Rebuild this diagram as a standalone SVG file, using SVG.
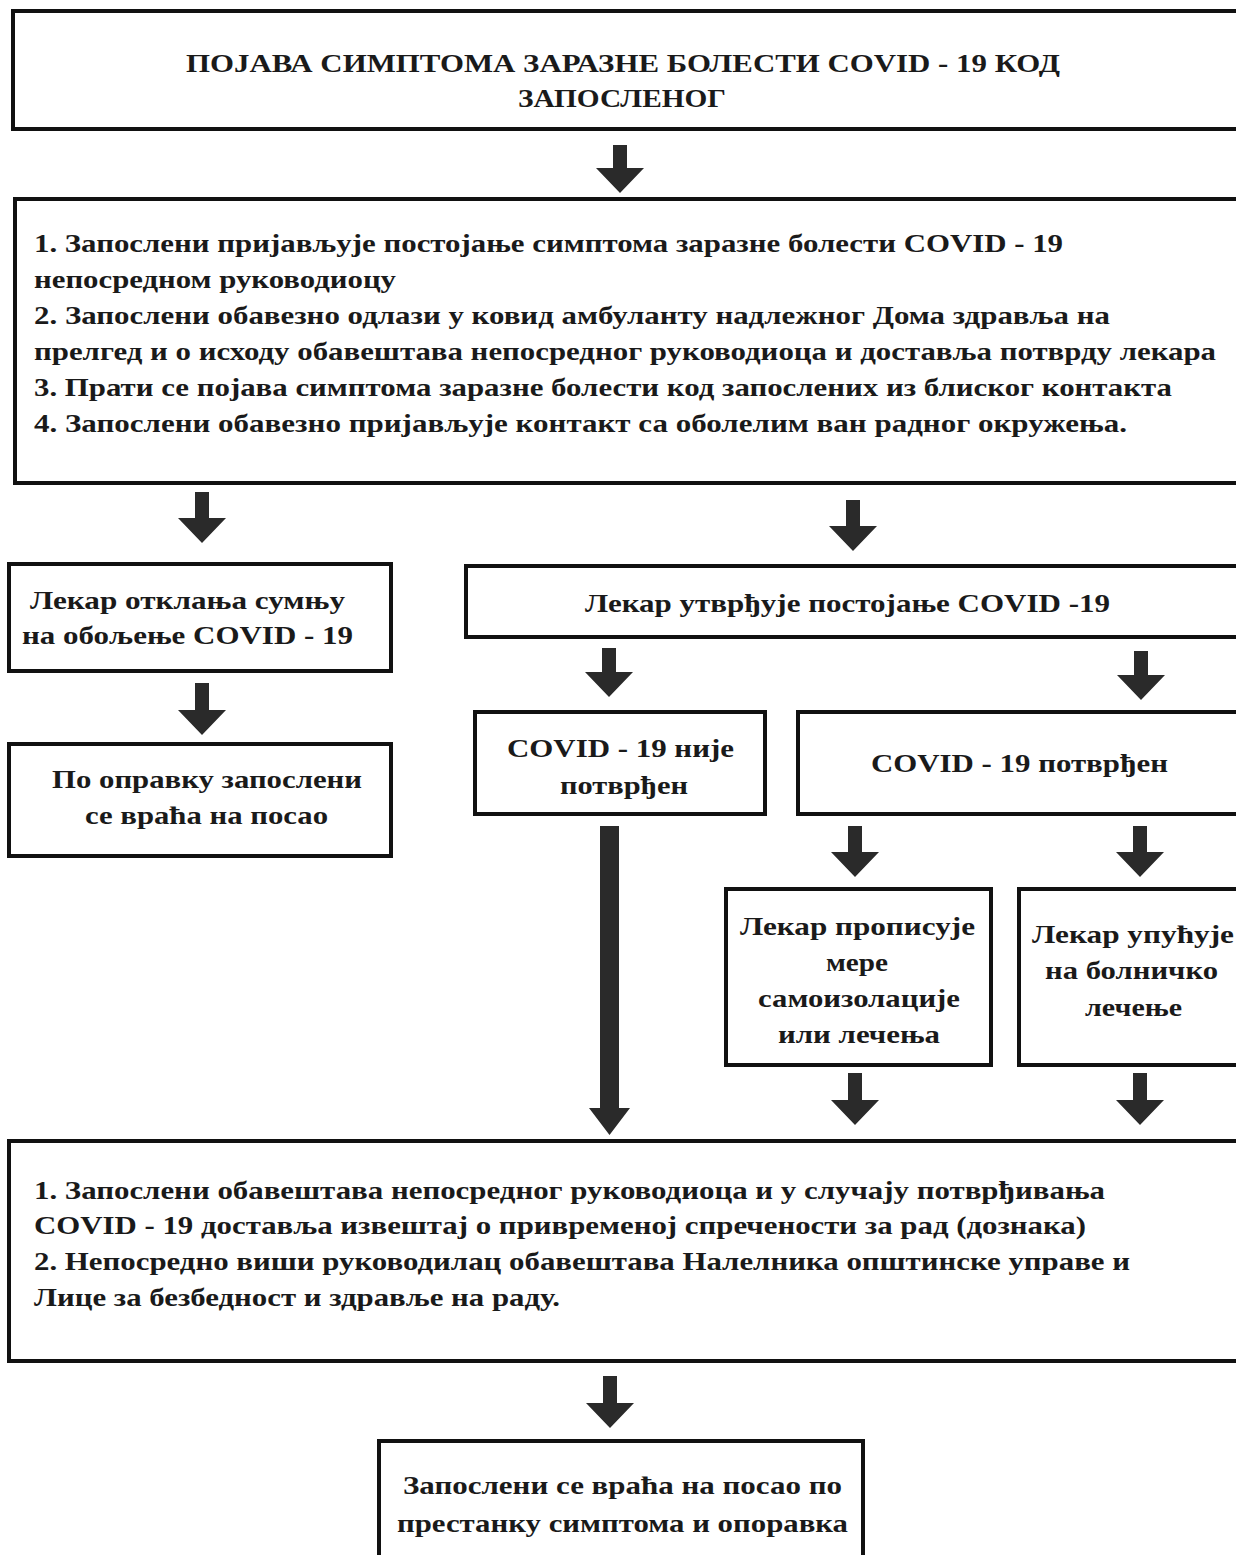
<svg xmlns="http://www.w3.org/2000/svg" width="1236" height="1555" viewBox="0 0 1236 1555">
<style>
.box{fill:#fff;stroke:#111;stroke-width:4}
.t{font-family:"Liberation Serif","Times New Roman",serif;font-weight:bold;font-size:26px;fill:#1a1a1a}
.ti{font-size:26px}
.arr{fill:#2a2a2a}
</style>
<rect width="1236" height="1555" fill="#fff"/>
<g id="connectors">
<path class="arr" d="M613 145h14v23h17l-24 25l-24-25h17z"/>
<path class="arr" d="M195 492h14v26h17l-24 25l-24-25h17z"/>
<path class="arr" d="M846 500h14v26h17l-24 25l-24-25h17z"/>
<path class="arr" d="M195 683h14v27h17l-24 25l-24-25h17z"/>
<path class="arr" d="M602 648h14v24h17l-24 25l-24-25h17z"/>
<path class="arr" d="M1134 651h14v24h17l-24 25l-24-25h17z"/>
<path class="arr" d="M600 826h19v282h11l-20.5 27l-20.5-27h11z"/>
<path class="arr" d="M848 826h14v26h17l-24 25l-24-25h17z"/>
<path class="arr" d="M1133 826h14v26h17l-24 25l-24-25h17z"/>
<path class="arr" d="M848 1073h14v27h17l-24 25l-24-25h17z"/>
<path class="arr" d="M1133 1073h14v27h17l-24 25l-24-25h17z"/>
<path class="arr" d="M603 1376h14v27h17l-24 25l-24-25h17z"/>
</g>
<g id="n1">
<rect class="box" x="13" y="11" width="1235" height="118"/>
<text class="t ti" x="186" y="72" textLength="874" lengthAdjust="spacingAndGlyphs">ПОЈАВА СИМПТОМА ЗАРАЗНЕ БОЛЕСТИ COVID - 19 КОД</text>
<text class="t ti" x="518" y="107" textLength="208" lengthAdjust="spacingAndGlyphs">ЗАПОСЛЕНОГ</text>
</g>
<g id="n2">
<rect class="box" x="15" y="199" width="1233" height="284"/>
<text class="t" x="34" y="252" textLength="1029" lengthAdjust="spacingAndGlyphs">1. Запослени пријављује постојање симптома заразне болести COVID - 19</text>
<text class="t" x="34" y="288" textLength="362" lengthAdjust="spacingAndGlyphs">непосредном руководиоцу</text>
<text class="t" x="34" y="324" textLength="1076" lengthAdjust="spacingAndGlyphs">2. Запослени обавезно одлази у ковид амбуланту надлежног Дома здравља на</text>
<text class="t" x="34" y="360" textLength="1182" lengthAdjust="spacingAndGlyphs">прелгед и о исходу обавештава непосредног руководиоца и доставља потврду лекара</text>
<text class="t" x="34" y="396" textLength="1138" lengthAdjust="spacingAndGlyphs">3. Прати се појава симптома заразне болести код запослених из блиског контакта</text>
<text class="t" x="34" y="432" textLength="1093" lengthAdjust="spacingAndGlyphs">4. Запослени обавезно пријављује контакт са оболелим ван радног окружења.</text>
</g>
<g id="n3">
<rect class="box" x="9" y="564" width="382" height="107"/>
<text class="t" x="30" y="609" textLength="315" lengthAdjust="spacingAndGlyphs">Лекар отклања сумњу</text>
<text class="t" x="22" y="644" textLength="331" lengthAdjust="spacingAndGlyphs">на обољење COVID - 19</text>
</g>
<g id="n4">
<rect class="box" x="9" y="744" width="382" height="112"/>
<text class="t" x="52" y="788" textLength="310" lengthAdjust="spacingAndGlyphs">По оправку запослени</text>
<text class="t" x="85" y="824" textLength="243" lengthAdjust="spacingAndGlyphs">се враћа на посао</text>
</g>
<g id="n5">
<rect class="box" x="466" y="566" width="782" height="71"/>
<text class="t" x="585" y="612" textLength="525" lengthAdjust="spacingAndGlyphs">Лекар утврђује постојање COVID -19</text>
</g>
<g id="n6">
<rect class="box" x="475" y="712" width="290" height="102"/>
<text class="t" x="507" y="757" textLength="227" lengthAdjust="spacingAndGlyphs">COVID - 19 није</text>
<text class="t" x="560" y="794" textLength="128" lengthAdjust="spacingAndGlyphs">потврђен</text>
</g>
<g id="n7">
<rect class="box" x="798" y="712" width="450" height="102"/>
<text class="t" x="871" y="772" textLength="297" lengthAdjust="spacingAndGlyphs">COVID - 19 потврђен</text>
</g>
<g id="n8">
<rect class="box" x="726" y="889" width="265" height="176"/>
<text class="t" x="740" y="935" textLength="235" lengthAdjust="spacingAndGlyphs">Лекар прописује</text>
<text class="t" x="826" y="971" textLength="62" lengthAdjust="spacingAndGlyphs">мере</text>
<text class="t" x="758" y="1007" textLength="202" lengthAdjust="spacingAndGlyphs">самоизолације</text>
<text class="t" x="778" y="1043" textLength="162" lengthAdjust="spacingAndGlyphs">или лечења</text>
</g>
<g id="n9">
<rect class="box" x="1019" y="889" width="229" height="176"/>
<text class="t" x="1032" y="943" textLength="202" lengthAdjust="spacingAndGlyphs">Лекар упућује</text>
<text class="t" x="1045" y="979" textLength="173" lengthAdjust="spacingAndGlyphs">на болничко</text>
<text class="t" x="1085" y="1016" textLength="97" lengthAdjust="spacingAndGlyphs">лечење</text>
</g>
<g id="n10">
<rect class="box" x="9" y="1141" width="1239" height="220"/>
<text class="t" x="34" y="1199" textLength="1071" lengthAdjust="spacingAndGlyphs">1. Запослени обавештава непосредног руководиоца и у случају потврђивања</text>
<text class="t" x="34" y="1234" textLength="1052" lengthAdjust="spacingAndGlyphs">COVID - 19 доставља извештај о привременој спречености за рад (дознака)</text>
<text class="t" x="34" y="1270" textLength="1096" lengthAdjust="spacingAndGlyphs">2. Непосредно виши руководилац обавештава Налелника општинске управе и</text>
<text class="t" x="34" y="1306" textLength="526" lengthAdjust="spacingAndGlyphs">Лице за безбедност и здравље на раду.</text>
</g>
<g id="n11">
<rect class="box" x="379" y="1441" width="484" height="130"/>
<text class="t" x="403" y="1494" textLength="439" lengthAdjust="spacingAndGlyphs">Запослени се враћа на посао по</text>
<text class="t" x="397" y="1532" textLength="451" lengthAdjust="spacingAndGlyphs">престанку симптома и опоравка</text>
</g>
</svg>
